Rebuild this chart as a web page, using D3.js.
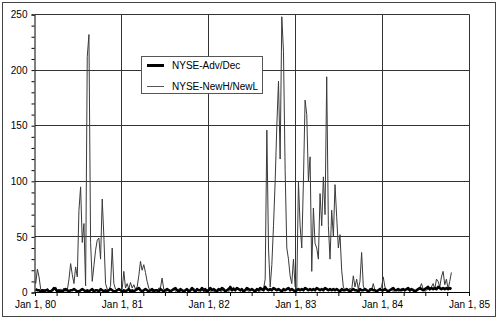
<!DOCTYPE html>
<html lang="en">
<head>
<meta charset="UTF-8">
<title>NYSE breadth</title>
<script src="https://d3js.org/d3.v7.min.js"></script>
<style>
  body { margin: 0; background: #fff; }
  text { font-family: Arial, "Liberation Sans", sans-serif; }
</style>
</head>
<body>
<div id="plot"></div>
<script>
// weekly readings, first week ending Jan 4 1980
var startDate = new Date(1980, 0, 4);
var seriesNames = ["NYSE-Adv/Dec", "NYSE-NewH/NewL"];

var advDec = [
  3,2,2,1,2,1,2,2,1,1, 2,4,3,1,2,1,1,2,3,2, 1,2,2,3,2,1,1,2,3,2,
  1,2,1,2,3,1,2,2,1,3, 2,1,2,1,2,3,2,1,1,2, 3,2,1,2,1,2,3,1,2,1,
  2,3,4,2,1,2,3,2,1,2, 3,1,2,2,1,3,2,1,2,3, 2,1,2,3,4,2,1,3,2,1,
  2,3,1,2,4,2,1,3,2,2, 4,2,3,1,2,4,2,3,2,1, 3,2,4,3,1,2,3,5,2,3,
  2,4,3,2,3,1,2,4,3,2, 3,2,1,3,2,4,3,2,5,3, 2,3,2,4,3,2,3,2,1,3,
  2,3,4,2,3,2,1,2,3,2, 3,2,4,3,2,3,2,3,2,4, 3,2,3,2,4,3,2,3,2,3,
  2,3,2,1,3,2,2,3,2,1, 2,3,2,2,1,3,2,2,3,2, 1,2,3,2,2,1,2,3,2,2,
  3,2,1,2,3,4,2,2,3,2, 2,3,2,3,4,2,3,2,1,2, 3,4,3,2,3,4,5,3,4,3,
  4,3,5,4,3,4,3,4,3,4, 3
];

var newHighLow = [
  8,21,14,3,2,3,1,4,2,1, 3,2,5,2,1,3,2,4,1,2,
  12,26,16,8,23,14,74,95,45,62, 6,212,232,45,10,24,38,47,49,30,
  84,50,8,3,2,6,40,8,3,2, 4,2,3,19,4,8,3,9,4,7,
  3,5,15,28,20,25,18,10,4,2, 1,3,2,1,4,4,13,3,2,1,
  3,1,2,4,1,2,3,1,2,1, 1,3,2,1,2,4,2,1,3,1,
  2,1,1,2,3,1,2,1,1,2, 4,2,1,3,1,2,1,2,3,5,
  2,4,3,1,2,1,3,2,1,2, 3,1,2,4,2,1,3,3,12,146,
  40,5,25,60,100,150,190,120,248,217, 110,40,30,15,8,30,5,3,100,60,
  40,100,173,160,100,122,19,76,44,40, 30,89,60,104,70,194,60,30,74,50,
  97,68,40,52,20,5,2,3,1,4, 2,15,5,12,3,10,36,6,2,3,
  1,4,2,8,2,1,2,3,5,14, 5,2,1,3,2,1,2,3,1,2,
  4,2,1,3,2,1,2,3,2,1, 2,4,8,3,1,2,3,2,5,8,
  3,12,10,5,14,19,7,12,3,10, 18
];

var yTicks = [0, 50, 100, 150, 200, 250];
var yearTicks = ["Jan 1, 80", "Jan 1, 81", "Jan 1, 82", "Jan 1, 83", "Jan 1, 84", "Jan 1, 85"];

var W = 500, H = 321;
var plot = {left: 35, right: 469, top: 14.5, bottom: 292.5};

var svg = d3.select("#plot").append("svg")
    .attr("width", W).attr("height", H);

// outer frame
svg.append("rect")
    .attr("x", 2.5).attr("y", 2.5)
    .attr("width", 493).attr("height", 314)
    .attr("fill", "none").attr("stroke", "#444");

var years = d3.range(1980, 1986).map(function(yr){ return new Date(yr, 0, 1); });
var x = d3.scaleTime().domain([years[0], years[5]]).range([plot.left, plot.right]);
var y = d3.scaleLinear().domain([0, 250]).range([plot.bottom, plot.top]);

function px(v){ return Math.round(v - 0.5) + 0.5; }

// gridlines
var grid = svg.append("g").attr("stroke", "#333").attr("stroke-width", 1);
yTicks.slice(1).forEach(function(t){
  grid.append("line")
    .attr("x1", plot.left).attr("x2", px(plot.right))
    .attr("y1", px(y(t))).attr("y2", px(y(t)));
});
years.slice(1).forEach(function(d){
  grid.append("line")
    .attr("x1", px(x(d))).attr("x2", px(x(d)))
    .attr("y1", plot.top).attr("y2", plot.bottom);
});

function weekDate(i){ return d3.timeDay.offset(startDate, 7 * i); }

var line = d3.line()
    .x(function(d, i){ return x(weekDate(i)); })
    .y(function(d){ return y(d); });

svg.append("path").datum(newHighLow)
    .attr("d", line)
    .attr("fill", "none").attr("stroke", "#3a3a3a").attr("stroke-width", 1);

svg.append("path").datum(advDec)
    .attr("d", line)
    .attr("fill", "none").attr("stroke", "#000").attr("stroke-width", 2.6)
    .attr("stroke-linejoin", "round");

// y axis with minor ticks every 10
var yAxis = d3.axisLeft(y)
    .tickValues(d3.range(0, 251, 10))
    .tickSize(3).tickPadding(4)
    .tickFormat(function(d){ return yTicks.indexOf(d) >= 0 ? d : ""; });
var gy = svg.append("g").attr("transform", "translate(" + (plot.left - 0.5) + ",0)").call(yAxis);
gy.select(".domain").attr("stroke", "#000");
gy.selectAll("line").attr("stroke", "#000");
gy.selectAll("text").attr("font-size", 10).attr("fill", "#000");

// x axis, quarterly ticks, labels on years
var quarters = d3.timeMonth.every(3).range(years[0], new Date(1985, 0, 2));
var xAxis = d3.axisBottom(x)
    .tickValues(quarters)
    .tickSize(4).tickPadding(5)
    .tickFormat(function(d){
      return d.getMonth() === 0 ? yearTicks[d.getFullYear() - 1980] : "";
    });
var gx = svg.append("g").attr("transform", "translate(0," + (plot.bottom - 0.5) + ")").call(xAxis);
gx.select(".domain").attr("stroke", "#000");
gx.selectAll("line").attr("stroke", "#000");
gx.selectAll("text").attr("font-size", 10).attr("fill", "#000");

// legend
var lg = svg.append("g");
lg.append("rect")
    .attr("x", 141.5).attr("y", 56.5).attr("width", 121).attr("height", 37)
    .attr("fill", "#fff").attr("stroke", "#555");
var legendItems = [
  {name: seriesNames[0], width: 3, color: "#000", y: 65.5},
  {name: seriesNames[1], width: 1, color: "#555", y: 86.5}
];
legendItems.forEach(function(it){
  lg.append("line")
    .attr("x1", 147).attr("x2", 164)
    .attr("y1", it.y).attr("y2", it.y)
    .attr("stroke", it.color).attr("stroke-width", it.width);
  lg.append("text")
    .attr("x", 172).attr("y", it.y)
    .attr("dy", "0.35em")
    .attr("font-size", 10)
    .text(it.name);
});
</script>
</body>
</html>
